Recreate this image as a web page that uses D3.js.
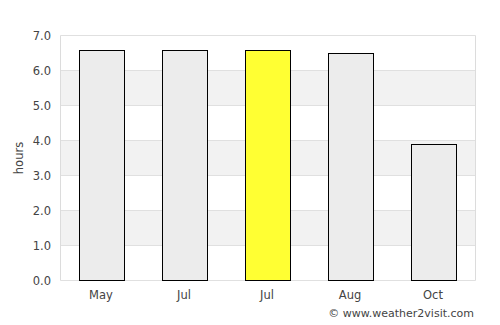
<!DOCTYPE html>
<html><head><meta charset="utf-8">
<script src="https://cdn.jsdelivr.net/npm/d3@7"></script>
<style>body{margin:0;background:#fff}svg{display:block;font-family:"DejaVu Sans",sans-serif}</style>
</head><body><svg id="c" width="500" height="325"></svg>
<script>
const categories = ["May","Jul","Jul","Aug","Oct"];
const values = [6.6, 6.6, 6.6, 6.5, 3.9];
const highlight = [false, false, true, false, false];
const yTicks = [0,1,2,3,4,5,6,7];

const svg = d3.select("#c");
const L=60.5, R=475.5, T=35.5, B=280.5;
const x = d3.scaleBand().domain(d3.range(categories.length)).range([L,R]);
const y = d3.scaleLinear().domain([0,7]).range([B,T]);

for (let i=0;i<7;i++){
  if (i%2===1) svg.append("rect").attr("x",L).attr("y",y(i+1)).attr("width",R-L).attr("height",y(i)-y(i+1)).attr("fill","#f2f2f2");
}
svg.selectAll(".g").data(yTicks).enter().append("line")
  .attr("x1",L).attr("x2",R).attr("y1",d=>y(d)).attr("y2",d=>y(d))
  .attr("stroke","#e0e0e0").attr("stroke-width",1);
svg.append("line").attr("x1",L).attr("x2",L).attr("y1",T).attr("y2",B).attr("stroke","#dcdcdc");
svg.append("line").attr("x1",R).attr("x2",R).attr("y1",T).attr("y2",B).attr("stroke","#dcdcdc");

const bw = 45;
svg.selectAll(".bar").data(values).enter().append("rect")
  .attr("x",(d,i)=>Math.floor(x(i)+x.bandwidth()/2-bw/2)+0.5)
  .attr("y",d=>Math.round(y(d))+0.5)
  .attr("width",bw)
  .attr("height",d=>B-0.5-Math.round(y(d)))
  .attr("fill",(d,i)=>highlight[i]?"#ffff33":"#ececec")
  .attr("stroke","#000").attr("stroke-width",1);

svg.selectAll(".yt").data(yTicks).enter().append("text")
  .attr("x",51).attr("y",d=>y(d)+4).attr("text-anchor","end")
  .attr("font-size",11.5).attr("fill","#444").text(d=>d.toFixed(1));

svg.selectAll(".xt").data(categories).enter().append("text")
  .attr("x",(d,i)=>x(i)+x.bandwidth()/2-1).attr("y",299).attr("text-anchor","middle")
  .attr("font-size",11.5).attr("fill","#444").text(d=>d);

svg.append("text").attr("transform","translate(23,158) rotate(-90)").attr("text-anchor","middle")
  .attr("font-size",11.5).attr("fill","#444").text("hours");

svg.append("text").attr("x",474).attr("y",317).attr("text-anchor","end")
  .attr("font-size",11).attr("fill","#444").text("© www.weather2visit.com");
</script></body></html>
